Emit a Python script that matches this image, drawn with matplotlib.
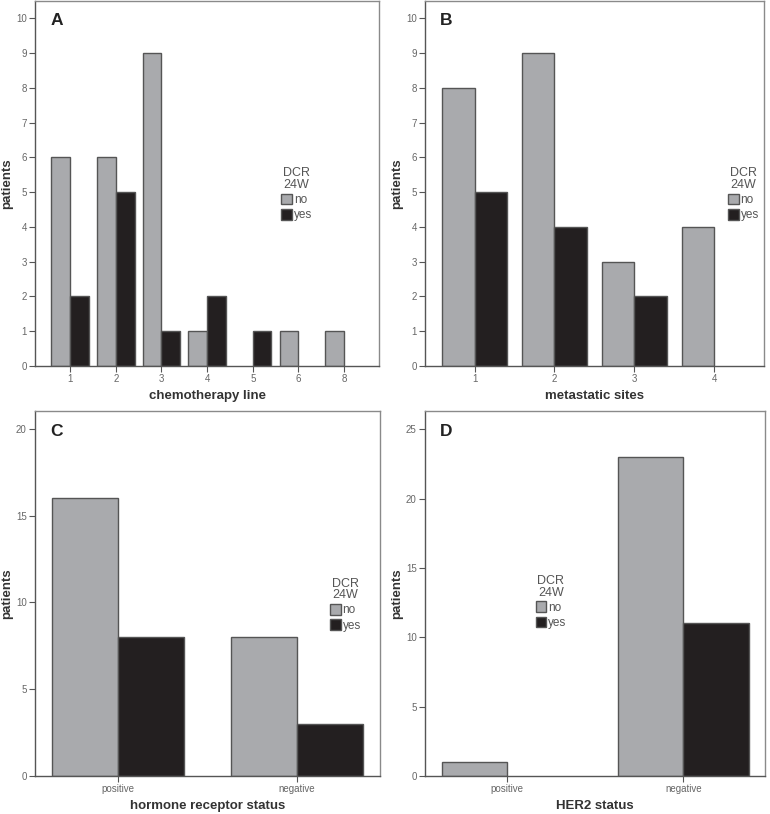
import numpy as np
import matplotlib.pyplot as plt
from matplotlib.patches import Patch

plt.rcParams['font.family'] = ['Liberation Sans', 'DejaVu Sans']

# Panel A: chemotherapy line
chemo_lines = ['1', '2', '3', '4', '5', '6', '8']
chemo_no = [6, 6, 9, 1, 0, 1, 1]
chemo_yes = [2, 5, 1, 2, 1, 0, 0]

# Panel B: metastatic sites
meta_sites = ['1', '2', '3', '4']
meta_no = [8, 9, 3, 4]
meta_yes = [5, 4, 2, 0]

# Panel C: hormone receptor status
hr_status = ['positive', 'negative']
hr_no = [16, 8]
hr_yes = [8, 3]

# Panel D: HER2 status
her2_status = ['positive', 'negative']
her2_no = [1, 23]
her2_yes = [0, 11]

gray = '#a9aaad'
black = '#231f20'
edge = '#555555'
frame = '#8a8a8a'


def draw_panel(ax, cats, no, yes, letter, xlabel, ylim, yticks, width, xpad, legend_pos):
    x = np.arange(len(cats))
    no = np.array(no, dtype=float)
    yes = np.array(yes, dtype=float)
    # empty cells are not drawn at all
    m_no = no > 0
    m_yes = yes > 0
    ax.bar(x[m_no] - width / 2, no[m_no], width, color=gray, edgecolor=edge, linewidth=1)
    ax.bar(x[m_yes] + width / 2, yes[m_yes], width, color=black, edgecolor=edge, linewidth=1)
    ax.set_xlim(-xpad, len(cats) - 1 + xpad)
    ax.set_ylim(0, ylim)
    ax.set_yticks(yticks)
    ax.set_xticks(x)
    ax.set_xticklabels(cats)
    ax.tick_params(labelsize=7, colors='#555555', labelcolor='#666666',
                   length=4, width=0.8, pad=2)
    for s in ax.spines.values():
        s.set_color(frame)
        s.set_linewidth(1)
    ax.spines['left'].set_color('#555555')
    ax.spines['bottom'].set_color('#555555')
    ax.set_xlabel(xlabel, fontsize=9.5, fontweight='bold', color='#333333', labelpad=4)
    ax.set_ylabel('patients', fontsize=9.5, fontweight='bold', color='#333333', labelpad=2)
    ax.text(0.045, 0.945, letter, transform=ax.transAxes, fontsize=12.5,
            fontweight='bold', color='#222222', va='center', ha='left')
    handles = [Patch(facecolor=gray, edgecolor=edge, label='no'),
               Patch(facecolor=black, edgecolor=edge, label='yes')]
    leg = ax.legend(handles=handles, title='DCR\n24W', loc='center',
                    bbox_to_anchor=legend_pos, frameon=False, fontsize=8.5,
                    title_fontsize=9, handlelength=0.9, handleheight=1.0,
                    handletextpad=0.15, labelspacing=0.25, borderpad=0)
    leg.get_title().set_color('#555555')
    leg.get_title().set_multialignment('center')
    leg.get_title().set_linespacing(0.95)
    for t in leg.get_texts():
        t.set_color('#555555')


fig = plt.figure(figsize=(7.7, 8.14), dpi=100)

axA = fig.add_axes([0.0455, 0.5504, 0.447, 0.4486])
draw_panel(axA, chemo_lines, chemo_no, chemo_yes, 'A', 'chemotherapy line',
           10.5, range(0, 11), 0.41, 0.77, (0.76, 0.47))

axB = fig.add_axes([0.552, 0.5504, 0.440, 0.4486])
draw_panel(axB, meta_sites, meta_no, meta_yes, 'B', 'metastatic sites',
           10.5, range(0, 11), 0.41, 0.62, (0.94, 0.47))

axC = fig.add_axes([0.0455, 0.0467, 0.448, 0.448])
draw_panel(axC, hr_status, hr_no, hr_yes, 'C', 'hormone receptor status',
           21, range(0, 21, 5), 0.37, 0.465, (0.9, 0.47))

axD = fig.add_axes([0.552, 0.0467, 0.442, 0.448])
draw_panel(axD, her2_status, her2_no, her2_yes, 'D', 'HER2 status',
           26.3, range(0, 26, 5), 0.37, 0.465, (0.37, 0.477))

fig.savefig('out.png', dpi=100, facecolor='white')
